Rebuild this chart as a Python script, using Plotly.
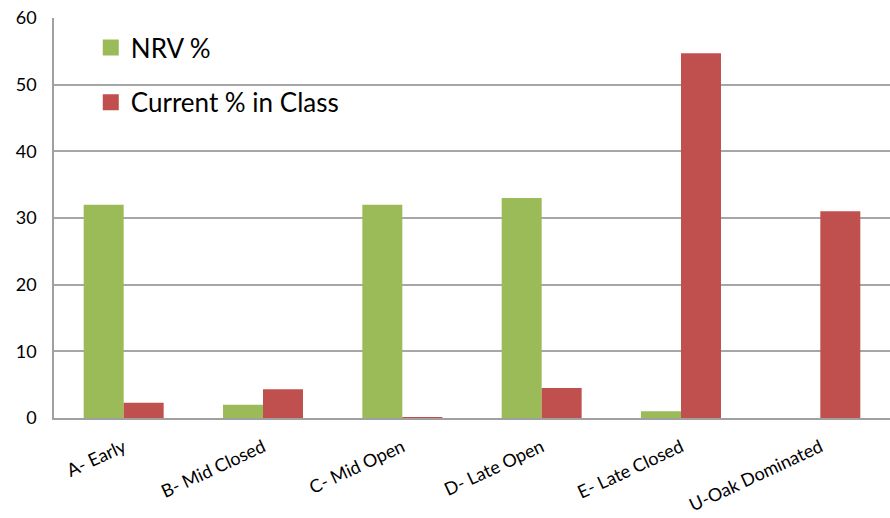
import plotly.graph_objects as go

categories = ["A- Early", "B- Mid Closed", "C- Mid Open", "D- Late Open", "E- Late Closed", "U-Oak Dominated"]
nrv = [32, 2, 32, 33, 1, 0]
current = [2.3, 4.3, 0.1, 4.5, 54.7, 31]
y_ticks = [0, 10, 20, 30, 40, 50, 60]
series_names = ["NRV %", "Current % in Class"]
colors = ["#9BBB59", "#C0504D"]

FONT = "Lato, 'Open Sans', sans-serif"

fig = go.Figure()
for vals, name, col in zip([nrv, current], series_names, colors):
    fig.add_trace(go.Bar(x=categories, y=vals, name=name, showlegend=False,
                         marker=dict(color=col, line=dict(width=0))))
# legend entries with larger square symbols
for i, (name, col) in enumerate(zip(series_names, colors)):
    fig.add_trace(go.Scatter(x=[None], y=[None], mode="markers", name=name,
                             marker=dict(symbol="square", size=16, color=col),
                             legendgroup=str(i)))

fig.update_layout(
    width=890, height=518,
    margin=dict(l=54, r=0, t=18, b=100),
    paper_bgcolor="white", plot_bgcolor="white",
    barmode="group", bargap=0.426, bargroupgap=0,
    font=dict(family=FONT, color="black", size=16),
    legend=dict(x=0.044, y=0.985, xanchor="left", yanchor="top",
                font=dict(size=26, family=FONT), tracegroupgap=18,
                bgcolor="rgba(0,0,0,0)", itemwidth=30, itemsizing="trace"),
    showlegend=True,
)
fig.update_xaxes(showline=True, linecolor="#a0a0a0", linewidth=2, tickangle=-25,
                 tickfont=dict(size=18), ticks="", showgrid=False, ticklabelstandoff=10)
fig.update_yaxes(range=[0, 60], tickvals=y_ticks, showgrid=True, gridcolor="#a6a6a6", gridwidth=1.5,
                 showline=True, linecolor="#a0a0a0", linewidth=1.5, zeroline=False,
                 tickfont=dict(size=18), ticks="", ticklen=0, ticklabelstandoff=12)

fig.write_html("out.html")
